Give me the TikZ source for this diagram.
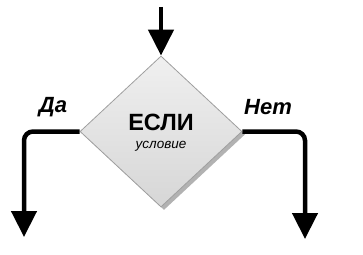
\documentclass[tikz,border=0pt]{standalone}
\usepackage{fontspec}
\setmainfont{Liberation Sans}
\usetikzlibrary{shapes.geometric,arrows.meta,shadows}
\begin{document}
\begin{tikzpicture}[x=1pt,y=-1pt,
  flow/.style={line width=4.5pt,-{Triangle[width=25pt,length=26pt]}},
  decision/.style={diamond,inner sep=0pt,minimum width=162pt,minimum height=151pt,
    top color=gray!12,bottom color=gray!32,draw=gray!75,line width=0.8pt,
    drop shadow={shadow xshift=3pt,shadow yshift=-3pt,opacity=1,fill=gray!60}},
  lbl/.style={font=\fontsize{22}{24}\selectfont\bfseries\itshape}]
\useasboundingbox (0,0) rectangle (363,254);
\node[decision] (d) at (161,131.5) {};
\node[font=\fontsize{23.5}{25}\selectfont\bfseries] (t) at (161,122) {ЕСЛИ};
\node[font=\fontsize{13.5}{15}\selectfont\itshape] (c) at (161,146) {условие};
\coordinate (top) at (161,7);
\coordinate (lc) at (24,131.5);
\coordinate (le) at (24,237);
\coordinate (rc) at (305,131.5);
\coordinate (re) at (305,239);
\draw[flow] (top) -- (d.north);
\draw[flow,rounded corners=9pt] (d.west) -- (lc) -- (le);
\draw[flow,rounded corners=9pt] (d.east) -- (rc) -- (re);
\node[lbl] (yes) at (53,107) {Да};
\node[lbl] (no) at (268,107) {Нет};
\end{tikzpicture}
\end{document}
